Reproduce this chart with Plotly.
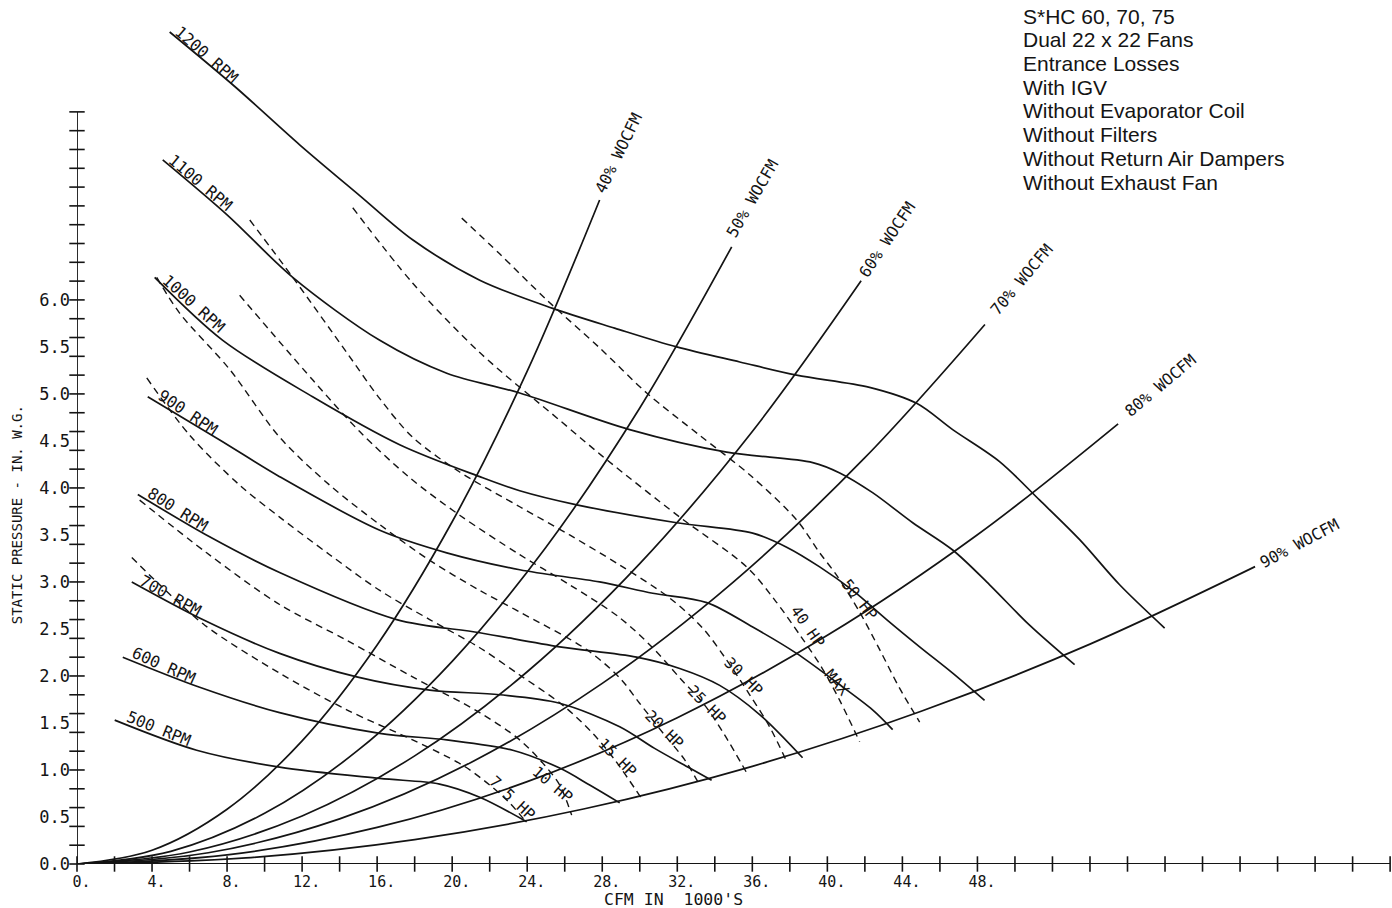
import plotly.graph_objects as go

# ---------------- DATA ----------------
# Fan speed curves (CFM in 1000's, static pressure in. W.G.)
rpm_1200_x = [4.94, 8.41, 11.87, 15.07, 17.89, 21.47, 25.36, 28.66, 31.97, 35.33, 38.36, 42.25, 44.76, 46.68, 49.18, 51.32, 53.45, 55.58, 57.98]
rpm_1200_y = [8.85, 8.27, 7.65, 7.11, 6.64, 6.21, 5.91, 5.70, 5.50, 5.34, 5.20, 5.07, 4.90, 4.62, 4.28, 3.87, 3.45, 2.97, 2.51]
rpm_1100_x = [4.57, 8.03, 11.50, 16.14, 19.71, 23.60, 29.46, 34.63, 39.22, 40.66, 42.41, 44.55, 46.68, 48.65, 50.78, 53.18]
rpm_1100_y = [7.49, 6.90, 6.24, 5.57, 5.22, 5.01, 4.62, 4.38, 4.27, 4.16, 3.95, 3.63, 3.34, 2.97, 2.54, 2.12]
rpm_1000_x = [4.14, 7.77, 12.56, 17.20, 21.47, 23.60, 26.64, 31.97, 36.02, 37.83, 39.59, 41.35, 43.16, 44.92, 46.68, 48.38]
rpm_1000_y = [6.24, 5.57, 4.97, 4.46, 4.12, 3.97, 3.82, 3.63, 3.52, 3.37, 3.16, 2.91, 2.60, 2.31, 2.03, 1.74]
rpm_900_x = [3.77, 7.61, 10.80, 16.14, 19.71, 23.60, 27.86, 30.69, 33.57, 36.02, 38.36, 40.50, 42.41, 43.48]
rpm_900_y = [4.97, 4.51, 4.12, 3.55, 3.31, 3.13, 3.00, 2.88, 2.78, 2.52, 2.24, 1.93, 1.64, 1.43]
rpm_800_x = [3.24, 7.07, 10.80, 17.04, 21.47, 25.73, 29.83, 32.13, 34.26, 36.39, 38.68]
rpm_800_y = [3.93, 3.48, 3.10, 2.60, 2.46, 2.31, 2.20, 2.08, 1.90, 1.59, 1.13]
rpm_700_x = [2.92, 6.70, 10.80, 14.91, 18.80, 22.53, 25.73, 28.93, 30.79, 32.66, 33.83]
rpm_700_y = [3.00, 2.60, 2.24, 1.99, 1.85, 1.80, 1.71, 1.46, 1.23, 1.02, 0.89]
rpm_600_x = [2.44, 6.54, 10.80, 16.14, 19.71, 23.23, 25.73, 27.33, 28.93]
rpm_600_y = [2.20, 1.88, 1.61, 1.39, 1.32, 1.21, 1.02, 0.84, 0.65]
rpm_500_x = [2.01, 6.38, 10.80, 16.14, 19.33, 21.47, 23.97]
rpm_500_y = [1.53, 1.21, 1.03, 0.91, 0.85, 0.71, 0.45]

rpm_names = ["1200 RPM", "1100 RPM", "1000 RPM", "900 RPM", "800 RPM", "700 RPM", "600 RPM", "500 RPM"]

# System curves (% of wide-open CFM)
wo_40_x = [0, 4, 8, 12, 16, 20, 24, 27.86]
wo_40_y = [0, 0.146, 0.582, 1.310, 2.330, 3.640, 5.242, 7.063]
wo_50_x = [0, 5, 10, 15, 20, 25, 30, 34.9]
wo_50_y = [0, 0.135, 0.539, 1.213, 2.156, 3.369, 4.851, 6.565]
wo_60_x = [0, 6, 12, 18, 24, 30, 36, 41.8]
wo_60_y = [0, 0.128, 0.511, 1.150, 2.045, 3.195, 4.601, 6.203]
wo_70_x = [0, 7, 14, 21, 28, 35, 42, 48.4]
wo_70_y = [0, 0.120, 0.480, 1.080, 1.921, 3.001, 4.322, 5.739]
wo_80_x = [0, 8, 16, 24, 32, 40, 48, 55.5]
wo_80_y = [0, 0.097, 0.389, 0.876, 1.556, 2.432, 3.502, 4.682]
wo_90_x = [0, 9, 18, 27, 36, 45, 54, 62.8]
wo_90_y = [0, 0.065, 0.260, 0.585, 1.039, 1.624, 2.339, 3.163]

wo_names = ["40% WOCFM", "50% WOCFM", "60% WOCFM", "70% WOCFM", "80% WOCFM", "90% WOCFM"]

# Brake horsepower curves
hp_50_x = [20.51, 22.53, 25.04, 27.86, 30.37, 33.19, 35.86, 38.36, 39.59, 40.50, 41.72, 42.79, 43.85, 44.92]
hp_50_y = [6.87, 6.49, 6.00, 5.49, 5.01, 4.56, 4.14, 3.66, 3.31, 3.07, 2.68, 2.28, 1.87, 1.51]
hp_40_x = [14.70, 17.89, 21.47, 25.73, 28.24, 32.13, 35.70, 37.19, 38.52, 39.70, 40.66, 41.72]
hp_40_y = [6.98, 6.18, 5.44, 4.72, 4.30, 3.69, 3.16, 2.81, 2.44, 2.09, 1.74, 1.30]
hp_30_x = [9.21, 11.50, 14.38, 16.14, 17.89, 20.40, 23.60, 26.26, 28.93, 31.59, 33.35, 34.63, 35.86, 36.92, 37.83]
hp_30_y = [6.85, 6.24, 5.44, 4.95, 4.54, 4.17, 3.80, 3.50, 3.18, 2.83, 2.51, 2.17, 1.80, 1.46, 1.09]
hp_25_x = [8.67, 12.56, 15.07, 17.73, 20.40, 23.60, 26.26, 28.93, 30.69, 32.13, 33.46, 34.53, 35.70]
hp_25_y = [6.05, 5.15, 4.60, 4.11, 3.71, 3.29, 2.97, 2.62, 2.30, 1.98, 1.69, 1.37, 0.97]
hp_20_x = [4.25, 5.47, 8.14, 10.80, 13.47, 16.14, 18.80, 21.47, 23.60, 27.17, 28.93, 29.99, 31.33, 32.39, 33.19]
hp_20_y = [6.24, 5.86, 5.26, 4.54, 4.03, 3.61, 3.23, 2.91, 2.68, 2.28, 1.98, 1.71, 1.37, 1.11, 0.84]
hp_15_x = [3.72, 6.01, 8.67, 10.80, 13.47, 16.14, 18.80, 21.47, 23.60, 25.89, 27.49, 28.66, 30.15]
hp_15_y = [5.17, 4.56, 4.03, 3.69, 3.29, 2.91, 2.60, 2.30, 2.01, 1.69, 1.39, 1.11, 0.68]
hp_10_x = [3.34, 6.91, 10.80, 14.38, 17.89, 21.47, 23.60, 24.93, 25.73, 26.37]
hp_10_y = [3.87, 3.31, 2.76, 2.38, 1.99, 1.61, 1.32, 1.05, 0.84, 0.52]
hp_75_x = [2.92, 4.41, 6.81, 10.80, 14.38, 17.89, 20.56, 22.00, 23.06, 23.97]
hp_75_y = [3.26, 2.97, 2.54, 2.03, 1.64, 1.32, 1.05, 0.84, 0.65, 0.44]

hp_names = ["50 HP", "40 HP", "30 HP", "25 HP", "20 HP", "15 HP", "10 HP", "7.5 HP"]

# Axis ticks and labels
x_tick_vals = list(range(0, 72, 2))
x_label_vals = list(range(0, 52, 4))
x_label_text = ["\u00a0%d." % v for v in x_label_vals]
y_tick_vals = [round(i * 0.2, 1) for i in range(0, 41)]
y_label_vals = [round(i * 0.5, 1) for i in range(0, 13)]
y_label_text = ["%.1f" % v for v in y_label_vals]

notes = ["S*HC 60, 70, 75", "Dual 22 x 22 Fans", "Entrance Losses", "With IGV",
         "Without Evaporator Coil", "Without Filters", "Without Return Air Dampers",
         "Without Exhaust Fan"]

# ---------------- STYLE / LAYOUT CONSTANTS ----------------
INK = "#141414"
MONO = "DejaVu Sans Mono"
X_MAX = 70.1
Y_MAX = 9.19

fig = go.Figure()

rpm_series = [(rpm_1200_x, rpm_1200_y), (rpm_1100_x, rpm_1100_y), (rpm_1000_x, rpm_1000_y),
              (rpm_900_x, rpm_900_y), (rpm_800_x, rpm_800_y), (rpm_700_x, rpm_700_y),
              (rpm_600_x, rpm_600_y), (rpm_500_x, rpm_500_y)]
for (xs, ys), name in zip(rpm_series, rpm_names):
    fig.add_trace(go.Scatter(x=xs, y=ys, mode="lines", name=name, hoverinfo="skip",
                             line=dict(color=INK, width=1.7, shape="spline", smoothing=0.9)))

wo_series = [(wo_40_x, wo_40_y), (wo_50_x, wo_50_y), (wo_60_x, wo_60_y),
             (wo_70_x, wo_70_y), (wo_80_x, wo_80_y), (wo_90_x, wo_90_y)]
for (xs, ys), name in zip(wo_series, wo_names):
    fig.add_trace(go.Scatter(x=xs, y=ys, mode="lines", name=name, hoverinfo="skip",
                             line=dict(color=INK, width=1.7, shape="spline", smoothing=1.0)))

hp_series = [(hp_50_x, hp_50_y), (hp_40_x, hp_40_y), (hp_30_x, hp_30_y), (hp_25_x, hp_25_y),
             (hp_20_x, hp_20_y), (hp_15_x, hp_15_y), (hp_10_x, hp_10_y), (hp_75_x, hp_75_y)]
for (xs, ys), name in zip(hp_series, hp_names):
    fig.add_trace(go.Scatter(x=xs, y=ys, mode="lines", name=name, hoverinfo="skip",
                             line=dict(color=INK, width=1.4, dash="7px,5px", shape="spline", smoothing=0.9)))

# axis lines
fig.add_trace(go.Scatter(x=[0, x_tick_vals[-1]], y=[0, 0], mode="lines",
                         line=dict(color=INK, width=1.8), cliponaxis=False, hoverinfo="skip"))
fig.add_trace(go.Scatter(x=[0, 0], y=[0, y_tick_vals[-1]], mode="lines",
                         line=dict(color=INK, width=1.8), cliponaxis=False, hoverinfo="skip"))
# crossing tick marks
fig.add_trace(go.Scatter(x=x_tick_vals, y=[0] * len(x_tick_vals), mode="markers",
                         marker=dict(symbol="line-ns", size=11, line=dict(color=INK, width=1.6)),
                         cliponaxis=False, hoverinfo="skip"))
fig.add_trace(go.Scatter(x=[0] * len(y_tick_vals), y=y_tick_vals, mode="markers",
                         marker=dict(symbol="line-ew", size=11, line=dict(color=INK, width=1.6)),
                         cliponaxis=False, hoverinfo="skip"))

annotations = []
# RPM labels: (x, y, angle)
rpm_label_pos = [(6.89, 8.61, 41), (6.57, 7.25, 40), (6.21, 5.96, 42), (5.90, 4.80, 34),
                 (5.37, 3.77, 32), (4.96, 2.86, 29), (4.62, 2.11, 24), (4.34, 1.44, 22)]
for name, (ax, ay, ang) in zip(rpm_names, rpm_label_pos):
    annotations.append(dict(x=ax, y=ay, text=name, showarrow=False, textangle=ang,
                            font=dict(family=MONO, size=16, color=INK),
                            xanchor="center", yanchor="middle"))
# WOCFM labels
wo_label_pos = [(28.85, 7.56, -64), (36.0, 7.08, -60), (43.2, 6.64, -56),
                (50.35, 6.22, -50), (57.75, 5.09, -40), (65.15, 3.41, -28)]
for name, (ax, ay, ang) in zip(wo_names, wo_label_pos):
    annotations.append(dict(x=ax, y=ay, text=name, showarrow=False, textangle=ang,
                            font=dict(family=MONO, size=16, color=INK),
                            xanchor="center", yanchor="middle"))
# HP labels
hp_label_pos = [(41.72, 2.81, 52), (38.95, 2.52, 55), (35.54, 1.99, 45), (33.57, 1.69, 45),
                (31.33, 1.43, 45), (28.82, 1.13, 45), (25.36, 0.84, 40), (23.17, 0.70, 43)]
for name, (ax, ay, ang) in zip(hp_names, hp_label_pos):
    annotations.append(dict(x=ax, y=ay, text=name, showarrow=False, textangle=ang,
                            font=dict(family=MONO, size=15.5, color=INK),
                            xanchor="center", yanchor="middle"))
annotations.append(dict(x=40.5, y=1.92, text="MAX", showarrow=False, textangle=50,
                        font=dict(family=MONO, size=15.5, color=INK), xanchor="center", yanchor="middle"))

# axis titles
annotations.append(dict(xref="paper", x=-0.0456, y=3.71, text="STATIC PRESSURE - IN. W.G.",
                        showarrow=False, textangle=-90, font=dict(family=MONO, size=14, color=INK),
                        xanchor="center", yanchor="middle"))
annotations.append(dict(x=28.0, yref="paper", y=-0.0415, text="CFM IN\u00a0\u00a01000'S",
                        showarrow=False, font=dict(family=MONO, size=16.5, color=INK),
                        xanchor="left", yanchor="middle"))
# notes block: one line per annotation (centres at fixed pixel rows)
note_rows = [16.7, 39.3, 63.3, 87.3, 111.0, 135.0, 158.3, 182.7]
for line, row in zip(notes, note_rows):
    annotations.append(dict(x=50.3, y=(864 - row) / 94.0, text=line, showarrow=False, align="left",
                            font=dict(family="Liberation Sans", size=21, color=INK),
                            xanchor="left", yanchor="middle"))

fig.update_layout(
    width=1392, height=908,
    margin=dict(l=77, r=0, t=0, b=44),
    paper_bgcolor="white", plot_bgcolor="white",
    showlegend=False,
    annotations=annotations,
    xaxis=dict(range=[0, X_MAX], showgrid=False, zeroline=False, showline=False,
               tickmode="array", tickvals=x_label_vals, ticktext=x_label_text, ticks="",
               ticklabelstandoff=7, tickfont=dict(family=MONO, size=15, color=INK), automargin=False),
    yaxis=dict(range=[0, Y_MAX], showgrid=False, zeroline=False, showline=False,
               tickmode="array", tickvals=y_label_vals, ticktext=y_label_text, ticks="",
               ticklabelstandoff=6, tickfont=dict(family=MONO, size=17, color=INK), automargin=False),
)

fig.write_html("out.html", config={"displayModeBar": False},
               post_script="document.body.style.margin='0';")
